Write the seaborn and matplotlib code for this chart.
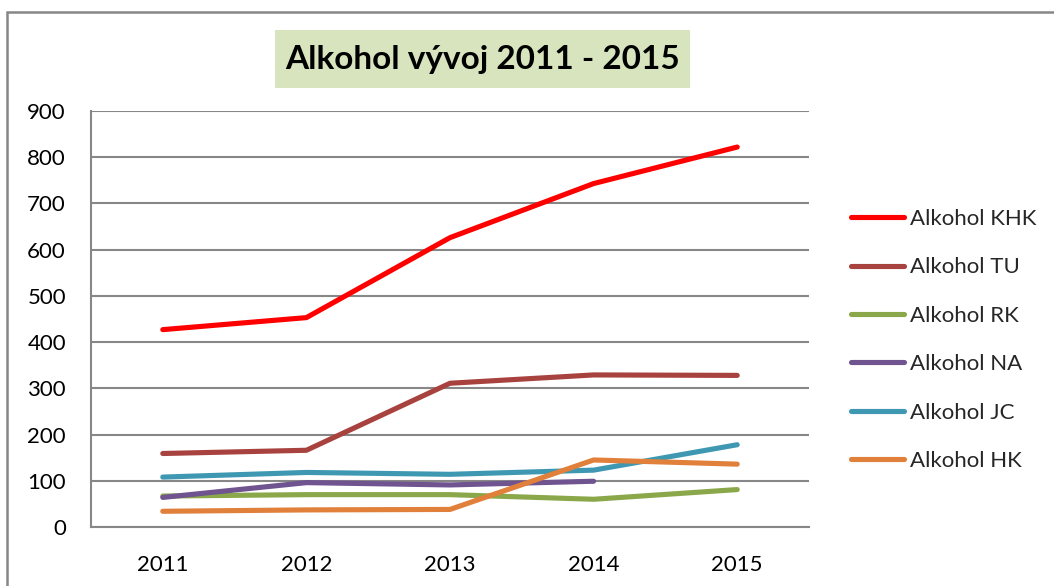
import matplotlib
matplotlib.use("Agg")
import matplotlib.pyplot as plt
import seaborn as sns
import pandas as pd
import numpy as np
from matplotlib.patches import Rectangle

years = [2011, 2012, 2013, 2014, 2015]
khk = [427, 453, 626, 743, 822]
tu = [159, 166, 311, 329, 328]
rk = [67, 70, 70, 60, 81]
na = [64, 96, 91, 99, np.nan]
jc = [108, 118, 114, 123, 178]
hk = [34, 37, 38, 145, 136]

series_names = ["Alkohol KHK", "Alkohol TU", "Alkohol RK", "Alkohol NA", "Alkohol JC", "Alkohol HK"]
series_values = [khk, tu, rk, na, jc, hk]
colors = ["#FF0000", "#A8423F", "#8AA84A", "#6F5490", "#3F98B2", "#E0803A"]
title = "Alkohol vývoj 2011 - 2015"

rows = []
for name, vals in zip(series_names, series_values):
    for y, v in zip(years, vals):
        rows.append({"Rok": y, "Hodnota": v, "Série": name})
df = pd.DataFrame(rows)

sns.set_style("white")
plt.rcParams["font.family"] = ["Lato", "DejaVu Sans"]

fig = plt.figure(figsize=(10.54, 5.86), dpi=100)
ax = fig.add_axes([91 / 1054, 1 - 527 / 586, (809 - 91) / 1054, (527 - 111) / 586])

sns.lineplot(data=df, x="Rok", y="Hodnota", hue="Série", hue_order=series_names,
             palette=dict(zip(series_names, colors)), linewidth=3.7, ax=ax,
             solid_capstyle="round", solid_joinstyle="round")

ax.set_xlim(2010.5, 2015.5)
ax.set_ylim(0, 900)
ax.set_yticks(range(0, 901, 100))
ax.set_xticks(years)
ax.set_xticklabels([str(y) for y in years])
ax.set_xlabel("")
ax.set_ylabel("")
ax.grid(axis="y", color="#878787", linewidth=1.5)
ax.set_axisbelow(True)
for s in ["top", "right"]:
    ax.spines[s].set_visible(False)
for s in ["left", "bottom"]:
    ax.spines[s].set_color("#878787")
    ax.spines[s].set_linewidth(1.5)
ax.tick_params(axis="y", length=0, pad=18, labelsize=16, labelcolor="black")
ax.tick_params(axis="x", length=0, pad=20, labelsize=16, labelcolor="black")

handles, labels = ax.get_legend_handles_labels()
leg = ax.legend(handles, labels, loc="upper left", bbox_to_anchor=(842 / 1054, 1 - 200 / 586),
                bbox_transform=fig.transFigure, frameon=False, fontsize=16,
                handlelength=2.4, handletextpad=0.25, labelspacing=1.28, borderaxespad=0)
for line in leg.get_lines():
    line.set_linewidth(3.7)
    line.set_solid_capstyle("round")

fig.patches.append(Rectangle((275 / 1054, 1 - 88 / 586), (690 - 275) / 1054, 58 / 586,
                             transform=fig.transFigure, facecolor="#D7E4BD",
                             edgecolor="none", zorder=0))
fig.text(483 / 1054, 1 - 59 / 586, title, ha="center", va="center", fontsize=24,
         fontweight="bold", color="black", zorder=2)

fig.patches.append(Rectangle((7 / 1054, -0.05), 1.1, 1 - 12 / 586 + 0.05,
                             transform=fig.transFigure, fill=False,
                             edgecolor="#878787", linewidth=1.8))

fig.savefig("out.png", dpi=100)
